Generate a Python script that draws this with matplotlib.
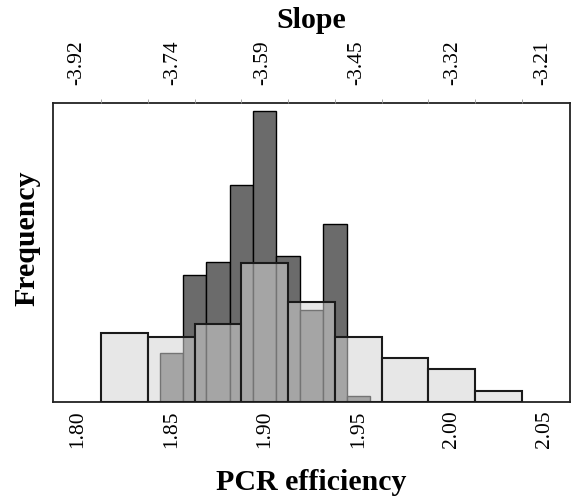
import numpy as np
import matplotlib
matplotlib.use('Agg')
import matplotlib.pyplot as plt

plt.rcParams['font.family'] = 'Liberation Serif'

# narrow bins (dark gray), width 0.0125
dark_left = [1.84375, 1.85625, 1.86875, 1.88125, 1.89375, 1.90625, 1.91875, 1.93125, 1.94375]
dark_freq = [4.9, 12.7, 14.0, 21.7, 29.1, 14.6, 9.2, 17.8, 0.6]

# wide bins (light gray), width 0.025
light_left = [1.8125, 1.8375, 1.8625, 1.8875, 1.9125, 1.9375, 1.9625, 1.9875, 2.0125]
light_freq = [6.9, 6.5, 7.8, 13.9, 10.0, 6.5, 4.4, 3.3, 1.1]

eff_ticks = [1.80, 1.85, 1.90, 1.95, 2.00, 2.05]
slope_ticks = [-3.92, -3.74, -3.59, -3.45, -3.32, -3.21]

fig = plt.figure(figsize=(5.71, 4.96), dpi=100)
ax = fig.add_axes([0.0928, 0.1895, 0.9054, 0.6028])

ax.bar(dark_left, dark_freq, width=0.0125, align='edge',
       color='#6b6b6b', edgecolor='black', linewidth=1.0, zorder=2)
ax.bar(light_left, light_freq, width=0.025, align='edge',
       facecolor=(0.835, 0.835, 0.835, 0.55), edgecolor='#1a1a1a', linewidth=1.5, zorder=3)

ax.set_xlim(1.7866, 2.0634)
ax.set_ylim(0, 29.9)
ax.set_yticks([])
ax.set_xticks(eff_ticks)
ax.set_xticklabels(['%.2f' % v for v in eff_ticks], rotation=90, fontsize=15.5)
ax.tick_params(axis='x', length=0, pad=6)
for s in ax.spines.values():
    s.set_linewidth(1.3)
    s.set_color('#222222')

# top axis: slope = -1/log10(E)
ax2 = ax.twiny()
ax2.set_xlim(ax.get_xlim())
ax2.set_xticks([10 ** (-1.0 / s) for s in slope_ticks])
ax2.set_xticklabels(['%.2f' % s for s in slope_ticks], rotation=90, fontsize=15.5)
ax2.set_xticks(light_left + [2.0375], minor=True)
ax2.tick_params(axis='x', which='major', length=0, pad=13)
ax2.tick_params(axis='x', which='minor', length=3, width=0.6, color='#999999')
for s in ax2.spines.values():
    s.set_visible(False)

fig.text(0.545, 0.9435, 'Slope', ha='center', va='baseline', fontsize=21.5, fontweight='bold')
fig.text(0.545, 0.0121, 'PCR efficiency', ha='center', va='baseline', fontsize=21.5, fontweight='bold')
fig.text(0.047, 0.52, 'Frequency', ha='center', va='center', rotation=90, fontsize=21.5, fontweight='bold')

plt.savefig('out.png', dpi=100)
